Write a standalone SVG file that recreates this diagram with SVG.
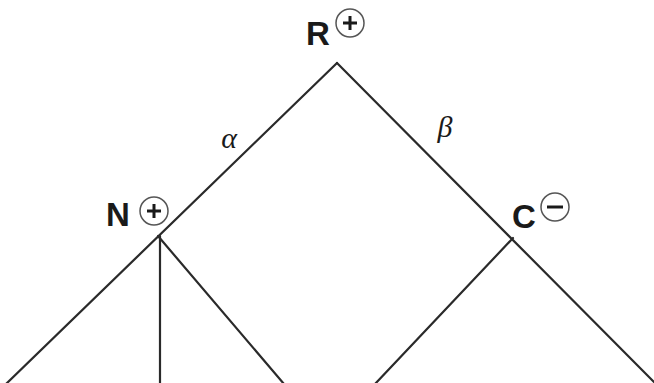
<svg xmlns="http://www.w3.org/2000/svg" width="654" height="383" viewBox="0 0 654 383">
<style>
.e{stroke:#2a2a2a;stroke-width:2.2;fill:none;stroke-linecap:round}
.lbl{font-family:"Liberation Sans",Arial,sans-serif;font-weight:bold;font-size:33px;fill:#1a1a1a}
.gr{font-family:"Liberation Serif","Times New Roman",serif;font-style:italic;font-size:30px;fill:#1a1a1a}
.ch{fill:none;stroke:#555;stroke-width:1.5}
.sg{stroke:#1a1a1a;stroke-width:3;fill:none}
</style>
<rect width="654" height="383" fill="#ffffff"/>
<g id="connectors">
<line class="e" x1="337" y1="63" x2="6" y2="384"/>
<line class="e" x1="337" y1="63" x2="656" y2="384"/>
<line class="e" x1="160" y1="236" x2="160" y2="384"/>
<line class="e" x1="158" y1="236" x2="284" y2="384"/>
<line class="e" x1="513" y1="238" x2="375" y2="384"/>
<text class="gr" x="229" y="148" text-anchor="middle" font-size="33">α</text>
<text class="gr" x="445" y="137" text-anchor="middle">β</text>
</g>
<g id="R">
<text class="lbl" x="318" y="45" text-anchor="middle">R</text>
<circle class="ch" cx="350" cy="23" r="14"/>
<path class="sg" d="M343 23h14M350 16v14"/>
</g>
<g id="N">
<text class="lbl" x="118" y="226" text-anchor="middle">N</text>
<circle class="ch" cx="154" cy="211" r="14"/>
<path class="sg" d="M147 211h14M154 204v14"/>
</g>
<g id="C">
<text class="lbl" x="524" y="228" text-anchor="middle">C</text>
<circle class="ch" cx="555" cy="207" r="14"/>
<path class="sg" d="M547 207h16"/>
</g>
</svg>
